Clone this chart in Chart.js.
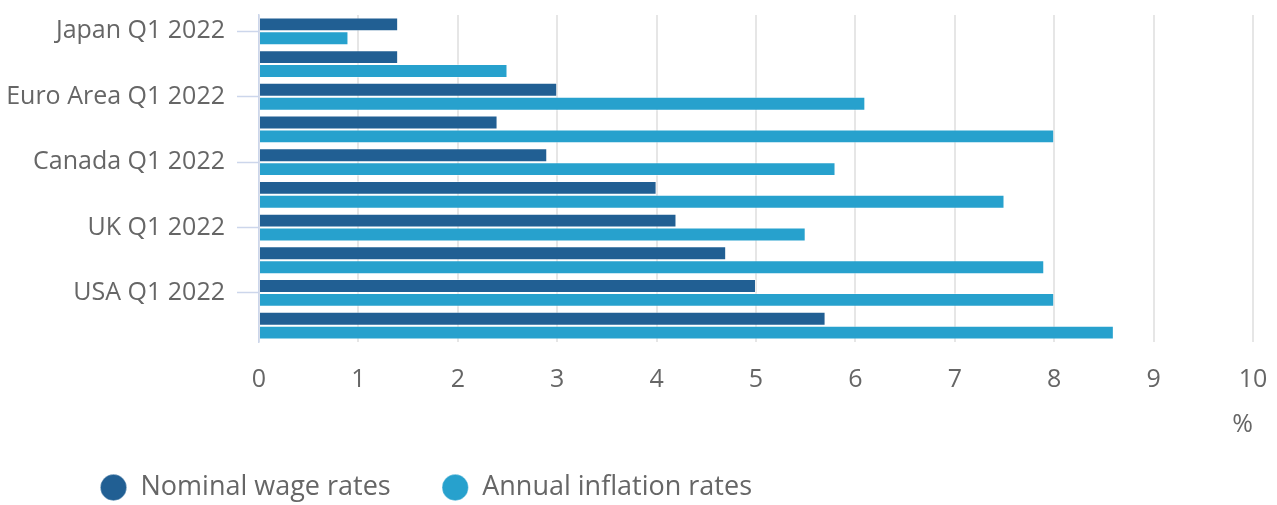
<!DOCTYPE html>
<html>
<head>
<meta charset="utf-8">
<script src="https://cdn.jsdelivr.net/npm/chart.js@4/dist/chart.umd.min.js"></script>
<style>
  html, body { margin: 0; padding: 0; background: #fff; }
  #wrap { width: 1277px; height: 505px; position: relative; }
</style>
</head>
<body>
<div id="wrap"><canvas id="wageChart"></canvas></div>
<script>
// categories (every second row carries no visible label)
const categories = [
  'Japan Q1 2022', 'Japan Q2 2022',
  'Euro Area Q1 2022', 'Euro Area Q2 2022',
  'Canada Q1 2022', 'Canada Q2 2022',
  'UK Q1 2022', 'UK Q2 2022',
  'USA Q1 2022', 'USA Q2 2022'
];
const wageRates = [1.4, 1.4, 3.0, 2.4, 2.9, 4.0, 4.2, 4.7, 5.0, 5.7];
const inflationRates = [0.9, 2.5, 6.1, 8.0, 5.8, 7.5, 5.5, 7.9, 8.0, 8.6];
const xTicks = [0, 1, 2, 3, 4, 5, 6, 7, 8, 9, 10];

const darkBlue = '#215f93';
const lightBlue = '#27a1cd';
const textGrey = '#666666';

// nudge the legend row to the right without moving the axes
const legendOffset = {
  id: 'legendOffset',
  afterLayout(chart) { chart.legend.left = 49; }
};

const ctx = document.getElementById('wageChart').getContext('2d');
new Chart(ctx, {
  type: 'bar',
  data: {
    labels: categories,
    datasets: [
      {
        label: 'Nominal wage rates',
        data: wageRates,
        backgroundColor: darkBlue,
        borderColor: 'rgba(255,255,255,0.35)',
        borderWidth: 1,
        categoryPercentage: 0.85,
        barPercentage: 1
      },
      {
        label: 'Annual inflation rates',
        data: inflationRates,
        backgroundColor: lightBlue,
        borderColor: 'rgba(255,255,255,0.35)',
        borderWidth: 1,
        categoryPercentage: 0.85,
        barPercentage: 1
      }
    ]
  },
  plugins: [legendOffset],
  options: {
    indexAxis: 'y',
    responsive: true,
    maintainAspectRatio: false,
    animation: false,
    layout: { padding: { top: 15, right: 24, left: 0, bottom: -6 } },
    plugins: {
      tooltip: { enabled: false },
      legend: {
        position: 'bottom',
        align: 'start',
        labels: {
          usePointStyle: true,
          pointStyle: 'circle',
          boxHeight: 18.6,
          padding: 51,
          color: textGrey,
          font: { family: 'Open Sans', size: 27 }
        }
      }
    },
    scales: {
      x: {
        min: 0,
        max: 10,
        afterBuildTicks: (s) => { s.ticks = xTicks.map(v => ({ value: v })); },
        afterFit: (s) => { s.height = 81; },
        grid: {
          color: '#e6e6e6',
          lineWidth: 2,
          drawTicks: true,
          tickLength: 14,
          tickColor: 'rgba(0,0,0,0)'
        },
        border: { display: false },
        ticks: {
          padding: 9,
          color: textGrey,
          font: { family: 'Open Sans', size: 25 }
        },
        title: {
          display: true,
          text: '%',
          align: 'end',
          color: textGrey,
          padding: { top: 0, bottom: -17 },
          font: { family: 'Open Sans', size: 25 }
        }
      },
      y: {
        afterFit: (s) => { s.width = 259; },
        grid: {
          offset: false,
          drawOnChartArea: false,
          tickLength: 22,
          tickWidth: 1.5,
          tickColor: (c) => (c.index % 2 === 0 ? '#ccd6eb' : 'rgba(0,0,0,0)')
        },
        border: { color: '#ccd6eb', width: 1.5 },
        ticks: {
          autoSkip: false,
          padding: 12,
          color: textGrey,
          font: { family: 'Open Sans', size: 25, lineHeight: 0.1 },
          callback: function (value, index) {
            return index % 2 === 0 ? this.getLabelForValue(value) : '';
          }
        }
      }
    }
  }
});
</script>
</body>
</html>
